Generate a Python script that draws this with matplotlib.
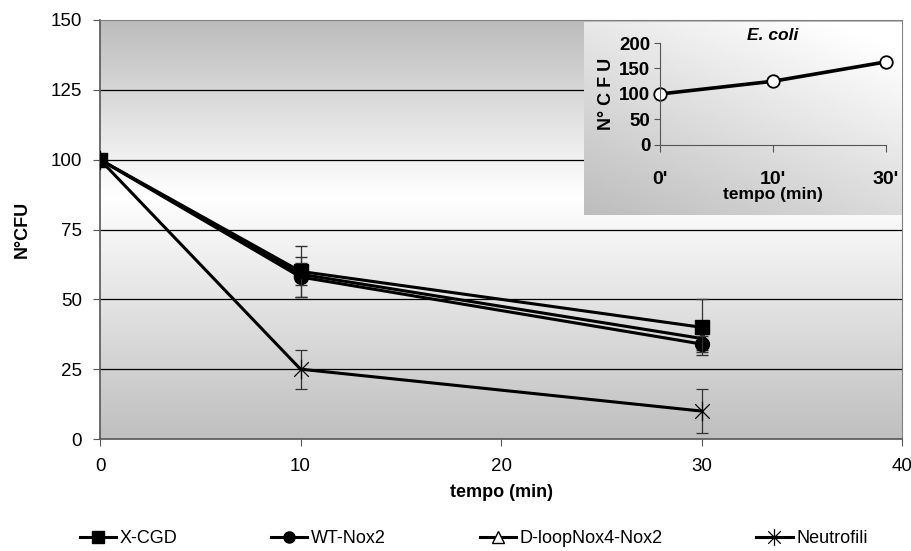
import matplotlib
matplotlib.use('Agg')
import matplotlib.pyplot as plt
import numpy as np
from matplotlib.path import Path
from matplotlib.lines import Line2D
from matplotlib.colors import LinearSegmentedColormap

plt.rcParams['font.family'] = ['Liberation Sans', 'DejaVu Sans']

# ── DATA ─────────────────────────────────────────────────────────────────────
tempo = [0, 10, 30]
xcgd = [100, 60, 40]
xcgd_err = [0, 9, 10]
wt_nox2 = [100, 58, 34]
wt_err = [0, 7, 3]
dloop = [100, 59, 36]
dloop_err = [0, 4, 4]
neutrofili = [100, 25, 10]
neutro_err = [0, 7, 8]

ecoli_labels = ["0'", "10'", "30'"]
ecoli_vals = [100, 125, 163]
ecoli_err = [4, 3, 5]

W, H = 911, 551
fig = plt.figure(figsize=(W / 100, H / 100), dpi=100)

# ── MAIN AXES ────────────────────────────────────────────────────────────────
ax = fig.add_axes([100 / W, 1 - 439 / H, 802 / W, 419 / H])
ax.set_xlim(0, 40)
ax.set_ylim(0, 150)

grad_cmap = LinearSegmentedColormap.from_list(
    'bg', [(0, '#bfbfbf'), (0.58, '#ffffff'), (1, '#bcbcbc')])
g = np.linspace(0, 1, 256).reshape(-1, 1)
ax.imshow(g, extent=[0, 40, 0, 150], origin='lower', aspect='auto',
          cmap=grad_cmap, zorder=0)

for yv in [25, 50, 75, 100, 125]:
    ax.axhline(yv, color='#000000', lw=0.9, zorder=1)

star = Path([(0, -1), (0, 1), (-0.75, -0.75), (0.75, 0.75),
             (-0.75, 0.75), (0.75, -0.75)],
            [Path.MOVETO, Path.LINETO, Path.MOVETO, Path.LINETO,
             Path.MOVETO, Path.LINETO])

styles = {
    'X-CGD': dict(marker='s', ms=10, mfc='black', mec='black', mew=1),
    'WT-Nox2': dict(marker='o', ms=10, mfc='black', mec='black', mew=1),
    'D-loopNox4-Nox2': dict(marker='^', ms=8, mfc='white', mec='black', mew=1),
    'Neutrofili': dict(marker=star, ms=14, mfc='none', mec='black', mew=0.9),
}

eb = dict(ecolor='#333333', elinewidth=0.9, capsize=4, capthick=0.9)
ax.errorbar(tempo, dloop, yerr=dloop_err, color='black', lw=2.2, zorder=3,
            **styles['D-loopNox4-Nox2'], **eb)
ax.errorbar(tempo, wt_nox2, yerr=wt_err, color='black', lw=2.2, zorder=4,
            **styles['WT-Nox2'], **eb)
ax.errorbar(tempo, xcgd, yerr=xcgd_err, color='black', lw=2.2, zorder=5,
            **styles['X-CGD'], **eb)
ax.errorbar(tempo, neutrofili, yerr=neutro_err, color='black', lw=2.2,
            zorder=4, **styles['Neutrofili'], **eb)

ax.set_xticks([0, 10, 20, 30, 40])
ax.set_yticks([0, 25, 50, 75, 100, 125, 150])
ax.tick_params(axis='both', labelsize=13.5, direction='out', length=5,
               color='#555555')
ax.tick_params(axis='x', pad=9)
ax.tick_params(axis='y', pad=8)
ax.set_xlabel('tempo (min)', fontsize=13, fontweight='bold', labelpad=6)
ax.set_ylabel('N°CFU', fontsize=13, fontweight='bold', labelpad=14)
for s in ['top', 'right']:
    ax.spines[s].set_color('#808080')
for s in ['left', 'bottom']:
    ax.spines[s].set_color('#555555')
    ax.spines[s].set_linewidth(1.2)

# legend: smaller markers, as in the original
names = ['X-CGD', 'WT-Nox2', 'D-loopNox4-Nox2', 'Neutrofili']
leg_sizes = {'X-CGD': 8, 'WT-Nox2': 8, 'D-loopNox4-Nox2': 8, 'Neutrofili': 12}
handles = []
for n in names:
    st = dict(styles[n])
    st['ms'] = leg_sizes[n]
    handles.append(Line2D([], [], color='black', lw=2.2, **st))
fig.legend(handles, names, loc='lower center', bbox_to_anchor=(0.52, -0.022),
           ncol=4, frameon=False, fontsize=13, handlelength=2.0,
           handletextpad=0.2, columnspacing=5.2)

# ── INSET ────────────────────────────────────────────────────────────────────
bx = fig.add_axes([584 / W, 1 - 215 / H, 318 / W, 193 / H], zorder=5)
bx.set_axis_off()
yy, xx = np.mgrid[0:1:100j, 0:1:100j]
shade = np.clip(0.65 * yy + 0.45 * xx, 0, 1)
inset_cmap = LinearSegmentedColormap.from_list('ins', ['#bdbdbd', '#ffffff'])
bx.imshow(shade, extent=[0, 1, 0, 1], origin='lower', aspect='auto',
          cmap=inset_cmap, vmin=0, vmax=1)
bx.set_xlim(0, 1)
bx.set_ylim(0, 1)

ix = fig.add_axes([660 / W, 1 - 145 / H, 226 / W, 102 / H], zorder=6)
ix.patch.set_alpha(0)
xi = np.arange(len(ecoli_labels))
ix.errorbar(xi, ecoli_vals, yerr=ecoli_err, color='black', lw=2.6,
            marker='o', ms=9, mfc='white', mec='black', mew=1.3,
            ecolor='#333333', elinewidth=0.8, capsize=3, clip_on=False)
ix.set_xlim(0, 2)
ix.set_ylim(0, 200)
ix.set_xticks(xi)
ix.set_xticklabels(ecoli_labels, fontsize=14, fontweight='bold')
ix.set_yticks([0, 50, 100, 150, 200])
ix.tick_params(axis='y', labelsize=13.5, length=4, color='#555555', pad=3)
ix.tick_params(axis='x', length=5, color='#555555', pad=14)
for lab in ix.get_yticklabels():
    lab.set_fontweight('bold')
ix.spines['top'].set_visible(False)
ix.spines['right'].set_visible(False)
ix.spines['left'].set_color('#555555')
ix.spines['bottom'].set_color('#555555')
ix.set_xlabel('tempo (min)', fontsize=12.5, fontweight='bold', labelpad=-1)
ix.set_ylabel('N° C F U', fontsize=13, fontweight='bold', labelpad=3)
ix.set_title('E. coli', fontsize=12.5, fontweight='bold', style='italic',
             pad=-8)

fig.savefig('out.png', dpi=100)
